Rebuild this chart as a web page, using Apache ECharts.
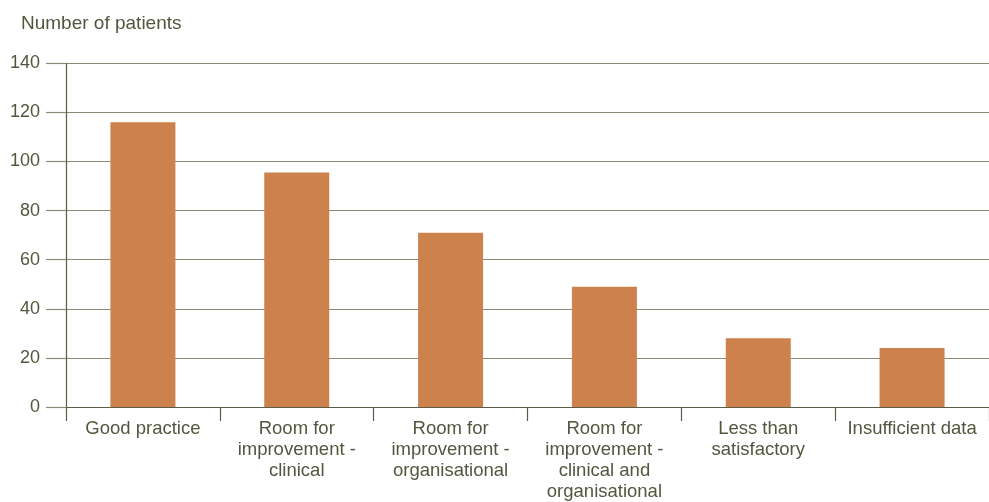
<!DOCTYPE html>
<html>
<head>
<meta charset="utf-8">
<script src="https://cdn.jsdelivr.net/npm/echarts@6/dist/echarts.min.js"></script>
<style>html,body{margin:0;padding:0;background:#fff}#c{width:989px;height:502px}</style>
</head>
<body>
<div id="c"></div>
<script>
const categories = [
  "Good practice",
  "Room for\nimprovement -\nclinical",
  "Room for\nimprovement -\norganisational",
  "Room for\nimprovement -\nclinical and\norganisational",
  "Less than\nsatisfactory",
  "Insufficient data"
];
const patients = [116, 95.5, 71, 49, 28, 24];
const yAxisTitle = "Number of patients";

const textColor = "#55553f";
const axisColor = "#5c5c46";
const gridColor = "#8a8a76";
const font = "'Liberation Sans', Arial, sans-serif";

const chart = echarts.init(document.getElementById('c'), null, {renderer: 'canvas'});
chart.setOption({
  animation: false,
  backgroundColor: '#ffffff',
  title: {
    text: yAxisTitle,
    left: 16, top: 9,
    textStyle: {color: textColor, fontSize: 19, fontWeight: 'normal', fontFamily: font}
  },
  grid: {left: 66, top: 63.3, width: 930, height: 345.4, containLabel: false},
  xAxis: {
    type: 'category',
    data: categories,
    axisLine: {show: true, lineStyle: {color: axisColor, width: 1.2}},
    axisTick: {show: true, length: 14, lineStyle: {color: axisColor, width: 1.2}},
    axisLabel: {color: textColor, fontSize: 18.5, fontFamily: font, margin: 11, lineHeight: 21, interval: 0},
    splitLine: {show: false}
  },
  yAxis: {
    type: 'value',
    min: 0, max: 140, interval: 20,
    axisLine: {show: true, lineStyle: {color: axisColor, width: 1.2}},
    axisTick: {show: true, length: 20, lineStyle: {color: gridColor, width: 1.2}},
    axisLabel: {color: textColor, fontSize: 18, fontFamily: font, margin: 26},
    splitLine: {show: true, lineStyle: {color: gridColor, width: 1.2}}
  },
  series: [{
    type: 'bar',
    data: patients,
    barWidth: 65,
    itemStyle: {color: '#cd824e'}
  }]
});
</script>
</body>
</html>
